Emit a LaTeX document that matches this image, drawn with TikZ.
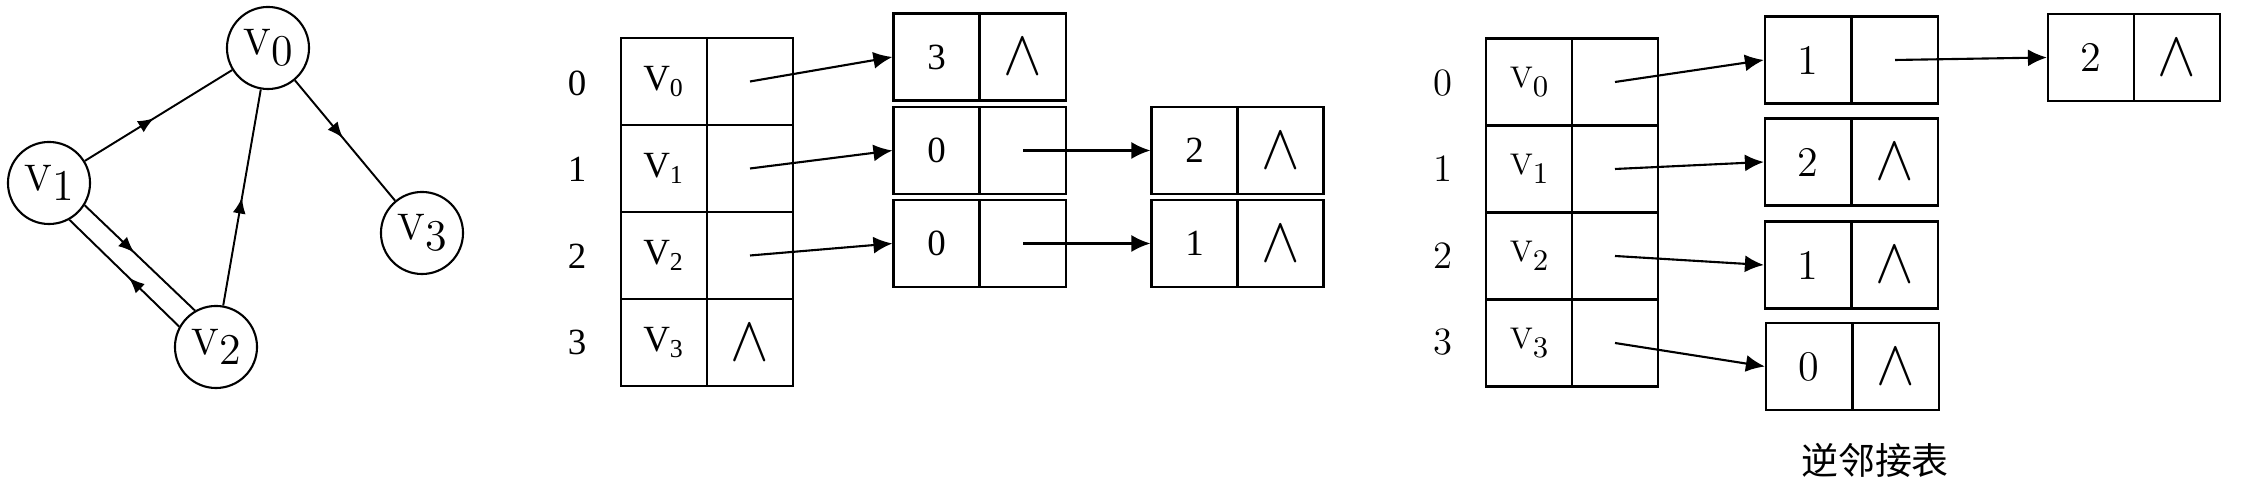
\documentclass[tikz,border=0pt]{standalone}
\usepackage{fontspec}
\usepackage{graphicx}
\usetikzlibrary{arrows.meta,decorations.markings}

\newfontfamily\tnr{Liberation Serif}
\newfontfamily\cjk{Noto Sans CJK SC}

% vertex names: graph, middle table (Times), right table
\newcommand{\gv}[1]{{\fontsize{10.5}{12}\selectfont V}\raisebox{-0.7ex}{\fontsize{12.5}{14}\selectfont #1}}
\newcommand{\tv}[1]{V\textsubscript{#1}}
\newcommand{\lv}[1]{{\fontsize{8.5}{10}\selectfont V\raisebox{-0.7ex}{#1}}}
\newcommand{\nullp}{\scalebox{0.95}[1.05]{\fontsize{16}{18}\selectfont$\wedge$}}

\begin{document}
\begin{tikzpicture}[x=0.01cm, y=-0.01cm,
    vert/.style={draw, circle, line width=0.6pt, minimum size=0.82cm, inner sep=0pt},
    cell/.style={draw, line width=0.6pt, minimum width=0.86cm, minimum height=0.87cm, inner sep=0pt},
    arrow/.style={-{Latex[length=0.19cm, width=0.17cm]}, line width=0.6pt},
    midarrow/.style={line width=0.55pt, postaction={decorate},
        decoration={markings, mark=at position #1 with {\arrow{Latex[length=0.16cm, width=0.13cm]}}}},
    midarrow/.default=0.5,
    midtxt/.style={font=\tnr\fontsize{10.5}{12}\selectfont},
    rtxt/.style={font=\fontsize{12}{14}\selectfont}
]
\useasboundingbox (0,0) rectangle (2250,486);

% --- graph ---
\node[vert] (v0) at (268,48) {\gv{0}};
\node[vert] (v1) at (49,183) {\gv{1}};
\node[vert] (v2) at (216,347) {\gv{2}};
\node[vert] (v3) at (422,233) {\gv{3}};

\draw[midarrow=0.47] (v1) -- (v0);
\draw[midarrow=0.48] (v0) -- (v3);
\draw[midarrow=0.5] (v2) -- (v0);
\draw[midarrow=0.45] (v1.-32) -- (v2.120);
\draw[midarrow=0.46] (v2.151) -- (v1.-61);

% --- adjacency list (middle) ---
\node[midtxt] (ai0) at (577,83) {0};
\node[midtxt] (ai1) at (577,169) {1};
\node[midtxt] (ai2) at (577,256) {2};
\node[midtxt] (ai3) at (577,342) {3};

\node[cell, midtxt] (av0) at (664,81.5) {\tv{0}};
\node[cell] (ap0) at (750,81.5) {};
\node[cell, midtxt] (av1) at (664,168.5) {\tv{1}};
\node[cell] (ap1) at (750,168.5) {};
\node[cell, midtxt] (av2) at (664,255.5) {\tv{2}};
\node[cell] (ap2) at (750,255.5) {};
\node[cell, midtxt] (av3) at (664,342.5) {\tv{3}};
\node[cell] (ap3) at (750,342.5) {\nullp};

\node[cell, midtxt] (a0d) at (936.5,57) {3};
\node[cell] (a0p) at (1023,57) {\nullp};
\node[cell, midtxt] (a1d) at (936.5,150.5) {0};
\node[cell] (a1p) at (1023,150.5) {};
\node[cell, midtxt] (a1e) at (1194.5,150.5) {2};
\node[cell] (a1f) at (1280.5,150.5) {\nullp};
\node[cell, midtxt] (a2d) at (936.5,243.5) {0};
\node[cell] (a2p) at (1023,243.5) {};
\node[cell, midtxt] (a2e) at (1194.5,243.5) {1};
\node[cell] (a2f) at (1280.5,243.5) {\nullp};

\draw[arrow] (ap0.center) -- (a0d.west);
\draw[arrow] (ap1.center) -- (a1d.west);
\draw[arrow] (ap2.center) -- (a2d.west);
\draw[arrow] (a1p.center) -- (a1e.west);
\draw[arrow] (a2p.center) -- (a2e.west);

% --- inverse adjacency list (right) ---
\node[font=\fontsize{11}{13}\selectfont] (bi0) at (1443,83) {0};
\node[font=\fontsize{11}{13}\selectfont] (bi1) at (1443,169) {1};
\node[font=\fontsize{11}{13}\selectfont] (bi2) at (1443,256) {2};
\node[font=\fontsize{11}{13}\selectfont] (bi3) at (1443,342) {3};

\node[cell] (bv0) at (1529,82) {\lv{0}};
\node[cell] (bp0) at (1615,82) {};
\node[cell] (bv1) at (1529,169) {\lv{1}};
\node[cell] (bp1) at (1615,169) {};
\node[cell] (bv2) at (1529,256) {\lv{2}};
\node[cell] (bp2) at (1615,256) {};
\node[cell] (bv3) at (1529,343) {\lv{3}};
\node[cell] (bp3) at (1615,343) {};

\node[cell, rtxt] (b0d) at (1808,60) {1};
\node[cell] (b0p) at (1895,60) {};
\node[cell, rtxt] (b0e) at (2091,57.5) {2};
\node[cell] (b0f) at (2177,57.5) {\nullp};
\node[cell, rtxt] (b1d) at (1808,162) {2};
\node[cell] (b1p) at (1895,162) {\nullp};
\node[cell, rtxt] (b2d) at (1808,265) {1};
\node[cell] (b2p) at (1895,265) {\nullp};
\node[cell, rtxt] (b3d) at (1809,366.5) {0};
\node[cell] (b3p) at (1896,366.5) {\nullp};

\draw[arrow] (bp0.center) -- (b0d.west);
\draw[arrow] (bp1.center) -- (b1d.west);
\draw[arrow] (bp2.center) -- (b2d.west);
\draw[arrow] (bp3.center) -- (b3d.west);
\draw[arrow] (b0p.center) -- (b0e.west);

\node[font=\cjk\fontsize{10.5}{12}\selectfont] (cap) at (1875,460) {逆邻接表};

\end{tikzpicture}
\end{document}
